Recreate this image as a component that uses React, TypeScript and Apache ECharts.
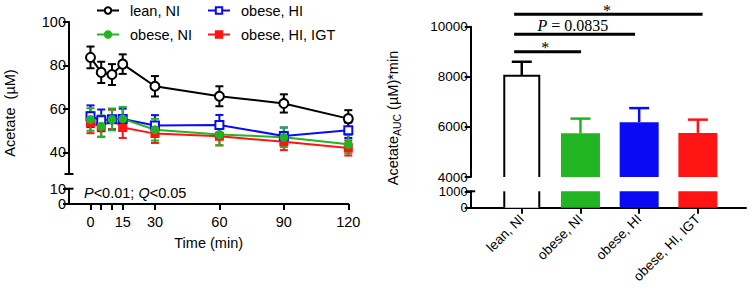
import React, { useEffect, useRef } from 'react';
import * as echarts from 'echarts';

// ---------- left panel data ----------
const times = [0, 5, 10, 15, 30, 60, 90, 120];
const leanNI = [83.7, 76.8, 75.8, 80.6, 70.4, 65.8, 62.5, 55.5];
const leanNIErr = [5.0, 4.9, 4.8, 4.5, 4.7, 4.6, 4.2, 3.9];
const obeseHI = [56.6, 54.7, 55.2, 55.3, 52.3, 52.6, 47.5, 50.1];
const obeseHIErr = [5.0, 5.0, 4.8, 4.8, 4.8, 4.6, 3.9, 3.5];
const obeseNI = [55.1, 52.0, 55.1, 55.4, 50.4, 48.2, 46.9, 43.7];
const obeseNIErr = [5.2, 5.0, 5.0, 5.5, 5.0, 5.0, 4.5, 4.2];
const obeseHIIGT = [53.6, 51.7, 55.1, 51.4, 48.6, 47.4, 44.8, 42.0];
const obeseHIIGTErr = [4.8, 4.5, 4.5, 4.8, 4.3, 4.2, 3.8, 3.5];

const timeTicks = [0, 5, 10, 15, 30, 60, 90, 120];
const timeLabels = [0, 15, 30, 60, 90, 120];
const leftUpperTicks = [40, 60, 80, 100];
const leftLowerTicks = [0, 10];

// ---------- right panel data ----------
const groups = ['lean, NI', 'obese, NI', 'obese, HI', 'obese, HI, IGT'];
const groupPos = [1, 2, 3, 4];
const aucMean = [8040, 5750, 6190, 5760];
const aucErr = [560, 580, 560, 530];
const rightUpperTicks = [4000, 6000, 8000, 10000];
const rightLowerTicks = [0, 1000];

// significance brackets (x in category units, y in AUC units)
const sigFrom = [0.87, 0.87, 0.87];
const sigTo = [4.08, 2.93, 2.01];
const sigLevel = [10500, 9700, 9000];
const sigTextX = [2.45, 1.87, 1.4];
const sigText = ['*', '{i|P}{n| = 0.0835}', '*'];

// ---------- styles ----------
const FONT = '"Liberation Sans", Arial, Helvetica, sans-serif';
const SERIF = '"Liberation Serif", "Times New Roman", serif';
const BLACK = '#000000';
const GREEN = '#22b422';
const BLUE = '#0a0af5';
const RED = '#ff1414';
const groupColors = [BLACK, GREEN, BLUE, RED];
const groupOutlined = [true, false, false, false];

const axisLine = { show: true, onZero: false, lineStyle: { color: BLACK, width: 2 } };
const plain = (v: number) => String(v);

export default function App() {
  const ref = useRef<HTMLDivElement>(null);

  useEffect(() => {
    document.body.style.margin = '0';
    if (!ref.current) return;
    const chart = echarts.init(ref.current, null, { renderer: 'svg' });

    const errRender = (color: string, cap: number) => (params: any, api: any) => {
      const x = api.value(0);
      const lo = api.coord([x, api.value(1)]);
      const hi = api.coord([x, api.value(2)]);
      const st = { stroke: color, lineWidth: 2 };
      return {
        type: 'group',
        children: [
          { type: 'line', shape: { x1: hi[0], y1: hi[1], x2: lo[0], y2: lo[1] }, style: st },
          { type: 'line', shape: { x1: hi[0] - cap / 2, y1: hi[1], x2: hi[0] + cap / 2, y2: hi[1] }, style: st },
          { type: 'line', shape: { x1: lo[0] - cap / 2, y1: lo[1], x2: lo[0] + cap / 2, y2: lo[1] }, style: st },
        ],
      };
    };

    const errSeries = (name: string, vals: number[], errs: number[], color: string) => ({
      type: 'custom',
      name,
      xAxisIndex: 0,
      yAxisIndex: 0,
      encode: { x: 0, y: [1, 2] },
      data: times.map((t, i) => [t, vals[i] - errs[i], vals[i] + errs[i]]),
      renderItem: errRender(color, 8),
      silent: true,
    });

    const lineSeries = (name: string, vals: number[], color: string, symbol: string, size: number) => ({
      type: 'line',
      name,
      xAxisIndex: 0,
      yAxisIndex: 0,
      data: times.map((t, i) => [t, vals[i]]),
      symbol,
      symbolSize: size,
      showSymbol: true,
      lineStyle: { color, width: 2 },
      itemStyle: { color, borderColor: color, borderWidth: 2 },
      silent: true,
    });

    const barRender = (params: any, api: any) => {
      const idx = params.dataIndex;
      const cs = params.coordSys;
      const x = api.value(0);
      const p = api.coord([x, api.value(1)]);
      const bottom = cs.y + cs.height;
      const clamped = p[1] < cs.y;
      const top = Math.max(p[1], cs.y);
      const color = groupColors[idx];
      if (groupOutlined[idx]) {
        const hw = 17.5;
        const st = { stroke: color, lineWidth: 2, fill: 'none' };
        const children: any[] = [
          { type: 'rect', shape: { x: p[0] - hw, y: top, width: hw * 2, height: bottom - top }, style: { fill: '#fff' } },
        ];
        if (clamped) {
          children.push({ type: 'line', shape: { x1: p[0] - hw, y1: top, x2: p[0] - hw, y2: bottom }, style: st });
          children.push({ type: 'line', shape: { x1: p[0] + hw, y1: top, x2: p[0] + hw, y2: bottom }, style: st });
        } else {
          children.push({
            type: 'polyline',
            shape: { points: [[p[0] - hw, bottom], [p[0] - hw, top], [p[0] + hw, top], [p[0] + hw, bottom]] },
            style: st,
          });
        }
        return { type: 'group', children };
      }
      const hw = 19.5;
      return { type: 'rect', shape: { x: p[0] - hw, y: top, width: hw * 2, height: bottom - top }, style: { fill: color } };
    };

    const barData = groupPos.map((x, i) => [x, aucMean[i]]);

    const yAxisBase = (gridIndex: number, min: number, max: number, ticks: number[], fontSize: number) => ({
      gridIndex, type: 'value', min, max,
      axisLine,
      axisTick: { show: true, length: 6, lineStyle: { color: BLACK, width: 2 }, customValues: ticks },
      axisLabel: { show: true, customValues: ticks, color: BLACK, fontSize, fontFamily: FONT, margin: 3, formatter: plain },
      splitLine: { show: false },
    });

    const option: any = {
      animation: false,
      backgroundColor: '#ffffff',
      legend: [
        {
          left: 91, top: -2, orient: 'vertical', itemWidth: 22, itemHeight: 8, itemGap: 9,
          data: ['lean, NI', 'obese, NI'],
          textStyle: { fontSize: 14.5, fontFamily: FONT, color: BLACK, padding: [0, 0, 0, 6] },
          selectedMode: false,
        },
        {
          left: 202, top: -2, orient: 'vertical', itemWidth: 22, itemHeight: 8, itemGap: 9,
          data: ['obese, HI', 'obese, HI, IGT'],
          textStyle: { fontSize: 14.5, fontFamily: FONT, color: BLACK, padding: [0, 0, 0, 6] },
          selectedMode: false,
        },
      ],
      grid: [
        { left: 69, top: 22, width: 279.3, height: 152 },
        { left: 69, top: 188.7, width: 279.3, height: 15.3 },
        { left: 470.7, top: 26.7, width: 275.3, height: 150.3 },
        { left: 470.7, top: 191.3, width: 275.3, height: 16.4 },
      ],
      xAxis: [
        { gridIndex: 0, type: 'value', min: -10, max: 120, show: false },
        {
          gridIndex: 1, type: 'value', min: -10, max: 120,
          axisLine,
          axisTick: { show: true, length: 6, lineStyle: { color: BLACK, width: 2 }, customValues: timeTicks },
          axisLabel: { show: true, customValues: timeLabels, color: BLACK, fontSize: 14.5, fontFamily: FONT, margin: 10, formatter: plain },
          splitLine: { show: false },
          name: 'Time (min)', nameLocation: 'middle', nameGap: 31,
          nameTextStyle: { fontSize: 14.5, fontFamily: FONT, color: BLACK },
        },
        { gridIndex: 2, type: 'value', min: 0.13, max: 4.82, show: false },
        {
          gridIndex: 3, type: 'value', min: 0.13, max: 4.82,
          axisLine,
          axisTick: { show: true, length: 6, lineStyle: { color: BLACK, width: 2 }, customValues: groupPos },
          axisLabel: {
            show: true, customValues: groupPos, rotate: 45, margin: 9,
            color: BLACK, fontSize: 13.5, fontFamily: FONT,
            formatter: (v: number) => groups[Math.round(v) - 1] ?? '',
          },
          splitLine: { show: false },
        },
      ],
      yAxis: [
        yAxisBase(0, 30, 100, leftUpperTicks, 14.5),
        yAxisBase(1, 0, 10, leftLowerTicks, 14.5),
        yAxisBase(2, 4000, 10000, rightUpperTicks, 13.5),
        yAxisBase(3, 0, 1000, rightLowerTicks, 13),
      ],
      series: [
        errSeries('err-igt', obeseHIIGT, obeseHIIGTErr, RED),
        errSeries('err-hi', obeseHI, obeseHIErr, BLUE),
        errSeries('err-ni', obeseNI, obeseNIErr, GREEN),
        errSeries('err-lean', leanNI, leanNIErr, BLACK),
        lineSeries('obese, HI, IGT', obeseHIIGT, RED, 'rect', 7),
        lineSeries('obese, HI', obeseHI, BLUE, 'emptyRect', 8),
        lineSeries('obese, NI', obeseNI, GREEN, 'circle', 7),
        lineSeries('lean, NI', leanNI, BLACK, 'emptyCircle', 9),
        {
          type: 'custom', name: 'bars-upper', xAxisIndex: 2, yAxisIndex: 2,
          encode: { x: 0, y: 1 }, data: barData, renderItem: barRender, silent: true,
        },
        {
          type: 'custom', name: 'bars-lower', xAxisIndex: 3, yAxisIndex: 3,
          encode: { x: 0, y: 1 }, data: barData, renderItem: barRender, silent: true,
        },
        {
          type: 'custom', name: 'bars-err', xAxisIndex: 2, yAxisIndex: 2,
          encode: { x: 0, y: [1, 2] },
          data: groupPos.map((x, i) => [x, aucMean[i], aucMean[i] + aucErr[i]]),
          renderItem: (params: any, api: any) => {
            const x = api.value(0);
            const lo = api.coord([x, api.value(1)]);
            const hi = api.coord([x, api.value(2)]);
            const st = { stroke: groupColors[params.dataIndex], lineWidth: 2.5 };
            return {
              type: 'group',
              children: [
                { type: 'line', shape: { x1: hi[0], y1: hi[1], x2: lo[0], y2: lo[1] }, style: st },
                { type: 'line', shape: { x1: hi[0] - 10, y1: hi[1], x2: hi[0] + 10, y2: hi[1] }, style: st },
              ],
            };
          },
          silent: true,
        },
        {
          type: 'custom', name: 'sig', xAxisIndex: 2, yAxisIndex: 2,
          encode: { x: [0, 1], y: 2 },
          data: sigFrom.map((f, i) => [f, sigTo[i], sigLevel[i], sigTextX[i], i]),
          renderItem: (params: any, api: any) => {
            const i = params.dataIndex;
            const a = api.coord([api.value(0), api.value(2)]);
            const b = api.coord([api.value(1), api.value(2)]);
            const t = api.coord([api.value(3), api.value(2)]);
            const isStar = sigText[i] === '*';
            return {
              type: 'group',
              children: [
                { type: 'line', shape: { x1: a[0], y1: a[1], x2: b[0], y2: b[1] }, style: { stroke: BLACK, lineWidth: 3 } },
                {
                  type: 'text',
                  x: t[0], y: isStar ? t[1] - 4 : t[1] - 1,
                  style: {
                    text: sigText[i],
                    textAlign: 'center', textVerticalAlign: isStar ? 'middle' : 'bottom',
                    fontFamily: SERIF, fontSize: 16, fill: BLACK,
                    rich: {
                      i: { fontFamily: SERIF, fontSize: 16, fontStyle: 'italic', fill: BLACK },
                      n: { fontFamily: SERIF, fontSize: 16, fill: BLACK },
                    },
                  },
                },
              ],
            };
          },
          silent: true,
        },
      ],
    };

    chart.setOption(option);

    const cap = (finder: any, pt: number[]) => {
      const p = chart.convertToPixel(finder, pt) as number[];
      return {
        type: 'line',
        shape: { x1: p[0] - 4.5, y1: p[1], x2: p[0] + 4.5, y2: p[1] },
        style: { stroke: BLACK, lineWidth: 2 },
        silent: true,
      };
    };

    chart.setOption({
      graphic: [
        cap({ gridIndex: 0 }, [-10, 30]),
        cap({ gridIndex: 1 }, [-10, 10]),
        cap({ gridIndex: 3 }, [0.13, 1000]),
        {
          type: 'text', x: 10, y: 113, rotation: Math.PI / 2,
          style: { text: 'Acetate  (µM)', textAlign: 'center', textVerticalAlign: 'middle', fontSize: 14.5, fontFamily: FONT, fill: BLACK },
          silent: true,
        },
        {
          type: 'text', x: 393, y: 118, rotation: Math.PI / 2,
          style: {
            text: '{a|Acetate}{s|AUC}{a| (µM)*min}',
            textAlign: 'center', textVerticalAlign: 'middle',
            rich: {
              a: { fontSize: 14.5, fontFamily: FONT, fill: BLACK, verticalAlign: 'middle', lineHeight: 18 },
              s: { fontSize: 10.5, fontFamily: FONT, fill: BLACK, verticalAlign: 'bottom', lineHeight: 18, padding: [6, 0, 0, 0] },
            },
          },
          silent: true,
        },
        {
          type: 'text', x: 84, y: 193,
          style: {
            text: '{i|P}{n|<0.01; }{i|Q}{n|<0.05}',
            textAlign: 'left', textVerticalAlign: 'middle',
            rich: {
              i: { fontSize: 14.5, fontFamily: FONT, fontStyle: 'italic', fill: BLACK },
              n: { fontSize: 14.5, fontFamily: FONT, fill: BLACK },
            },
          },
          silent: true,
        },
      ],
    });

    return () => chart.dispose();
  }, []);

  return <div ref={ref} style={{ width: 749, height: 288 }} />;
}
